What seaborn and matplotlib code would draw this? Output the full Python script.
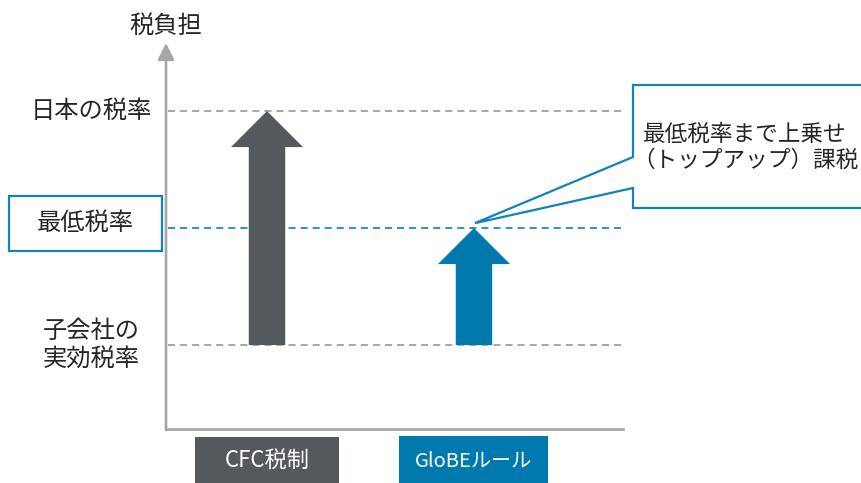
import matplotlib
matplotlib.use("Agg")
import matplotlib.pyplot as plt
import matplotlib.transforms as mtransforms
from matplotlib.patches import Rectangle, Polygon
import seaborn as sns

# ---- data ----
level_values = [10, 15, 20]
level_labels = ["子会社の\n実効税率", "最低税率", "日本の税率"]
categories = ["CFC税制", "GloBEルール"]
arrow_start = [10, 10]
arrow_end = [20, 15]
callout_text = "最低税率まで上乗せ\n（トップアップ）課税"
axis_title = "税負担"

# ---- style ----
sns.set_theme(style="white")
plt.rcParams["font.family"] = ["Noto Sans CJK JP", "DejaVu Sans"]

GRAY_AX = "#a6a6a6"
DARK = "#55585d"
BLUE = "#007aae"
BLUE_LINE = "#1282b9"
BLUE_DASH = "#2a93c9"
TXT = "#262626"

W, H = 861, 483
fig = plt.figure(figsize=(W / 100, H / 100), dpi=100)
ax = fig.add_axes([166 / W, (H - 429) / H, (623 - 166) / W, (429 - 43) / H])
ax.set_xlim(-0.488, 1.72)
ax.set_ylim(6.41, 22.91)
ax.set_xticks([])
ax.set_yticks([])
for s in ["top", "right", "left"]:
    ax.spines[s].set_visible(False)
ax.spines["bottom"].set_color(GRAY_AX)
ax.spines["bottom"].set_linewidth(1.9)
ax.patch.set_alpha(0)

# vertical axis with arrow head
ax.annotate("", xy=(0, 1), xytext=(0, -0.003), xycoords="axes fraction",
            arrowprops=dict(arrowstyle="-|>,head_width=0.25,head_length=0.5",
                            color=GRAY_AX, lw=1.9, mutation_scale=20,
                            shrinkA=0, shrinkB=0), annotation_clip=False)

# reference dashed levels
dash_colors = [GRAY_AX, BLUE_DASH, GRAY_AX]
for v, c in zip(level_values, dash_colors):
    ax.axhline(v, xmin=0.005, xmax=0.995, color=c, lw=1.4,
               linestyle=(0, (3.6, 2.6)), zorder=1)

# arrows
x_pos = list(range(len(categories)))
arrow_colors = [DARK, BLUE]
for x, y0, y1, c in zip(x_pos, arrow_start, arrow_end, arrow_colors):
    ax.arrow(x, y0, 0, y1 - y0, width=0.176, head_width=0.348,
             head_length=1.54, length_includes_head=True,
             color=c, lw=0, zorder=3)

# left labels
fig_x_data_y = mtransforms.blended_transform_factory(fig.transFigure, ax.transData)
ax.text(152 / W, level_values[2], level_labels[2], transform=fig_x_data_y,
        ha="right", va="center", fontsize=17.5, color=TXT)
ax.text(85 / W, level_values[1] + 0.2, level_labels[1], transform=fig_x_data_y,
        ha="center", va="center", fontsize=17.5, color=TXT)
box = Rectangle((9 / W, level_values[1] - 0.98), 153 / W, 2.35,
                transform=fig_x_data_y, fill=False, ec=BLUE_LINE, lw=1.6,
                clip_on=False)
ax.add_patch(box)
ax.text(91 / W, level_values[0], level_labels[0], transform=fig_x_data_y,
        ha="center", va="center", fontsize=17.5, color=TXT, linespacing=1.12)

# axis title
fig.text(166 / W, 1 - 26 / H, axis_title, ha="center", va="center",
         fontsize=17.5, color=TXT)

# bottom category labels
data_x_fig_y = mtransforms.blended_transform_factory(ax.transData, fig.transFigure)
box_w = [0.70, 0.72]
box_top = [437, 436]
label_sizes = [16, 14.5]
for x, lab, c, bw, bt, fs in zip(x_pos, categories, arrow_colors, box_w,
                                 box_top, label_sizes):
    r = Rectangle((x - bw / 2, 0), bw, (H - bt) / H, transform=data_x_fig_y,
                  fc=c, ec="none", clip_on=False)
    ax.add_patch(r)
    ax.text(x, (H - 461) / H, lab, transform=data_x_fig_y, ha="center",
            va="center", fontsize=fs, color="white")

# callout
tip_disp = ax.transData.transform((x_pos[1] + 0.005, arrow_end[1] + 0.21))
tip = fig.transFigure.inverted().transform(tip_disp)
pts_px = [(633, 85), (880, 85), (880, 208), (633, 208), (633, 188)]
pts = [(px / W, (H - py) / H) for px, py in pts_px]
pts.append(tuple(tip))
pts.append((633 / W, (H - 157) / H))
poly = Polygon(pts, closed=True, transform=fig.transFigure, fc="white",
               ec=BLUE_LINE, lw=1.6, joinstyle="miter", clip_on=False)
fig.add_artist(poly)
fig.text(745 / W, (H - 147) / H, callout_text, ha="center", va="center",
         fontsize=16.3, color=TXT, linespacing=1.15)

fig.savefig("out.png", dpi=100)
